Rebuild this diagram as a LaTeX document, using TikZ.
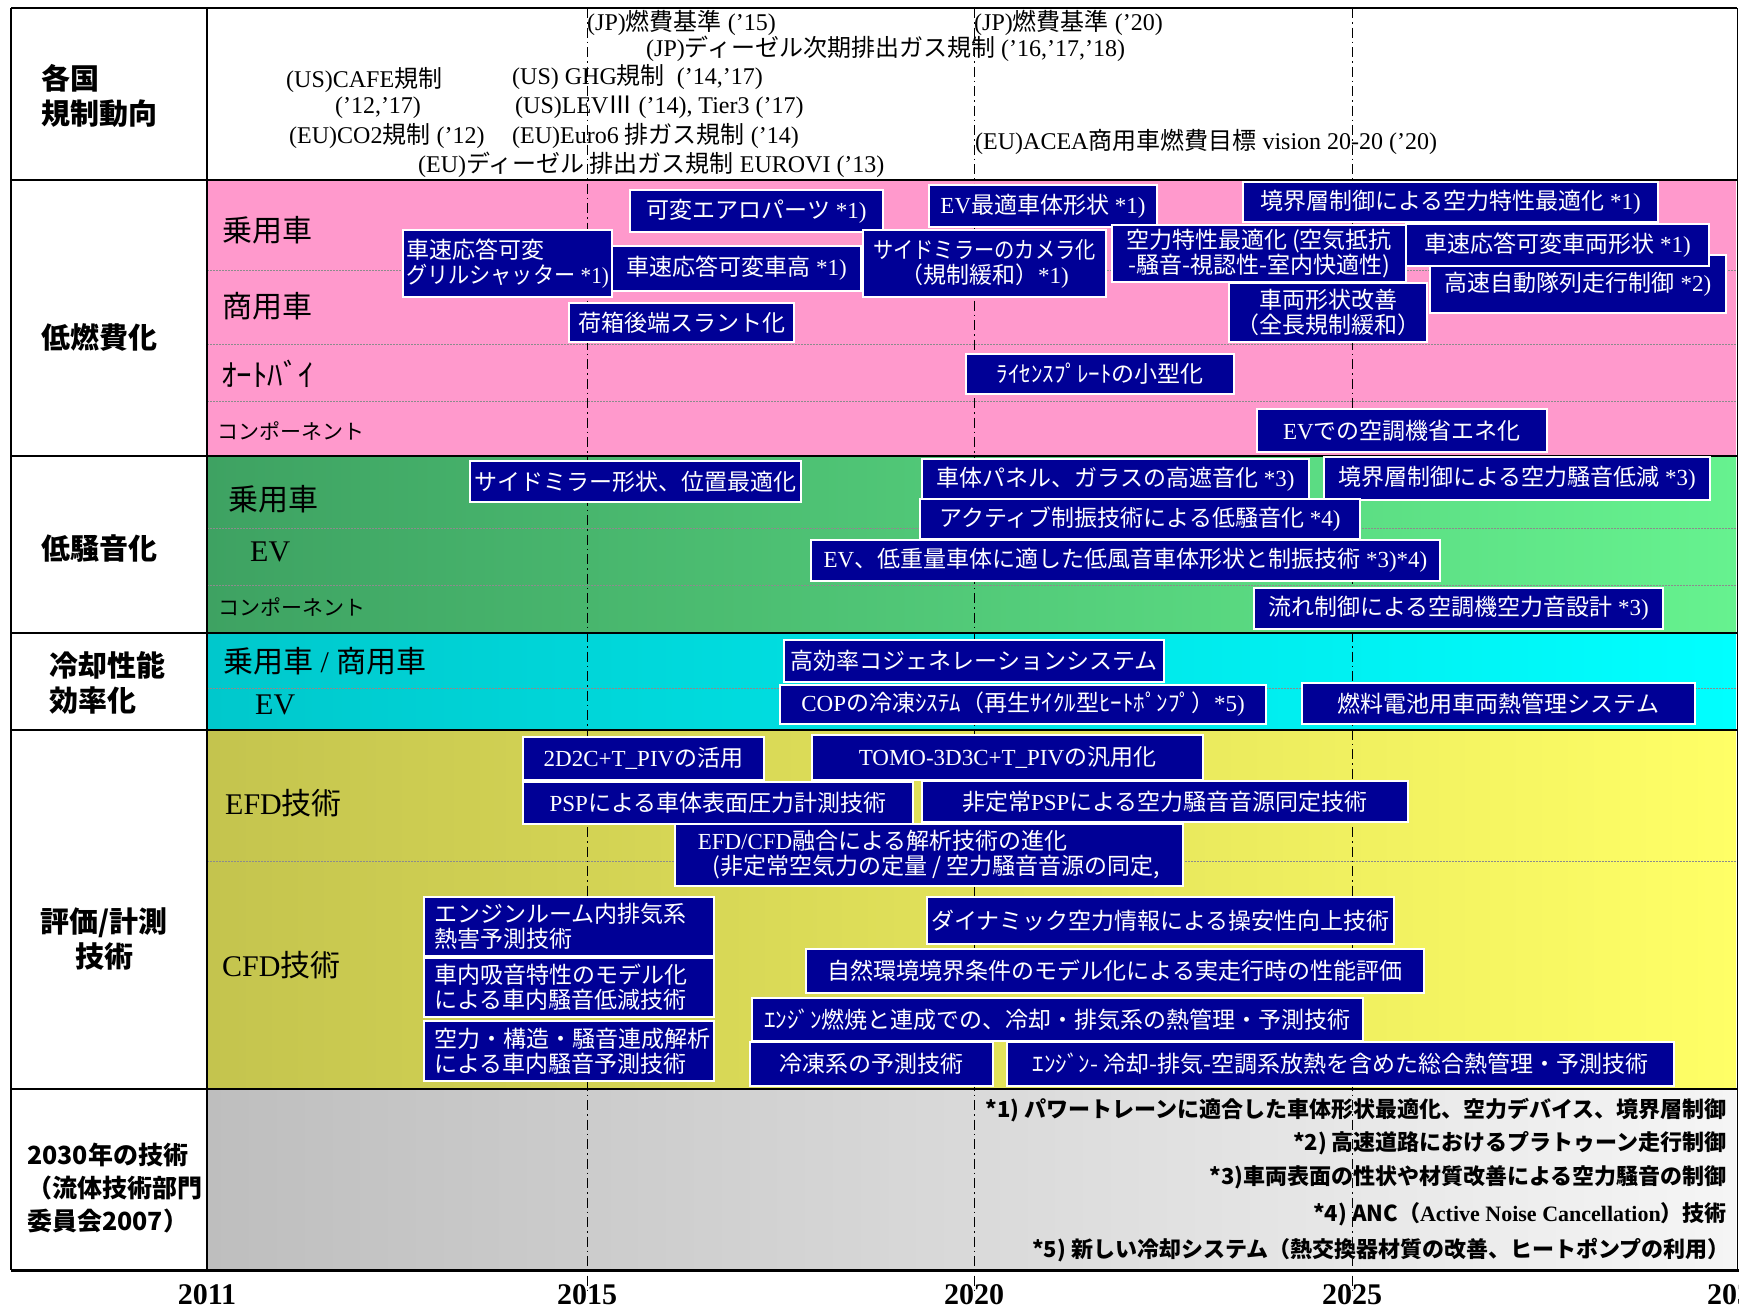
\documentclass[tikz,border=0pt]{standalone}
\usepackage{fontspec}
\usepackage{graphicx}
\setmainfont{Liberation Serif}
\newfontfamily\jp{Noto Sans CJK JP}
\newcommand\rmx[1]{{\rmfamily #1}}
\newcommand\jtx[1]{{\jp #1}}
\newcommand\hsc[2]{\scalebox{#1}[1]{#2}}
\newcommand\BX[6][]{\node[box,#1,minimum width={#4pt-#2pt},minimum height={#5pt-#3pt}] (#6) at ({(#2+#4)/2},{(#3+#5)/2})}
\definecolor{navy}{RGB}{0,0,150}
\definecolor{pinkbg}{RGB}{255,153,204}
\definecolor{gL}{RGB}{62,162,98}
\definecolor{gR}{RGB}{102,242,143}
\definecolor{cL}{RGB}{0,200,204}
\definecolor{cR}{RGB}{0,255,255}
\definecolor{yL}{RGB}{196,196,78}
\definecolor{yR}{RGB}{255,255,102}
\definecolor{grL}{RGB}{190,190,190}
\definecolor{grR}{RGB}{245,245,245}
\begin{document}
\begin{tikzpicture}[x=1pt,y=-1pt,
  box/.style={draw=white, line width=1.2pt, fill=navy, text=white, inner sep=0pt,
    font=\jp\fontsize{23}{25}\selectfont},
  reg/.style={font=\rmfamily\fontsize{24}{26}\selectfont, inner sep=0pt, anchor=west},
  lab/.style={font=\jp\bfseries\fontsize{29}{35}\selectfont, inner sep=0pt, anchor=west, align=left},
  sub/.style={font=\jp\fontsize{30}{32}\selectfont, inner sep=0pt, anchor=west},
  fn/.style={font=\jp\bfseries\fontsize{22}{24}\selectfont, inner sep=0pt, anchor=east},
  yr/.style={font=\rmfamily\bfseries\fontsize{30}{32}\selectfont, inner sep=0pt},
  subline/.style={draw=black!45, line width=0.9pt, dash pattern=on 1.5pt off 1.5pt},
  yearline/.style={draw=black, line width=1pt, dash pattern=on 10pt off 4pt on 1.5pt off 4pt},
  frame/.style={draw=black, line width=1.5pt}]
\useasboundingbox (0,0) rectangle (1739,1310);
\fill[white] (0,0) rectangle (1739,1310);
% backgrounds
\fill[pinkbg] (207,180) rectangle (1736,456);
\shade[left color=gL, right color=gR] (207,456) rectangle (1736,633);
\shade[left color=cL, right color=cR] (207,633) rectangle (1736,730);
\shade[left color=yL, right color=yR] (207,730) rectangle (1736,1089);
\shade[left color=grL, right color=grR] (207,1089) rectangle (1736,1268);
% sub dividers
\foreach \yy in {270,344,401,528,585,688,861} \draw[subline] (207,\yy) -- (1736,\yy);
% year lines
\foreach \xx in {587,974,1352} \draw[yearline] (\xx,8) -- (\xx,1290);
% frame
\draw[frame, line width=2pt] (11,8) -- (1737,8);
\draw[frame] (11,8) -- (11,1270);
\draw[frame] (207,8) -- (207,1270);
\draw[frame, line width=1pt] (1737,8) -- (1737,1270);
\foreach \yy in {180,456,633,730,1089} \draw[frame] (11,\yy) -- (1737,\yy);
\draw[frame, line width=3pt] (11,1270) -- (1739,1270);

% left labels
\node[lab] (lreg) at (41,96) {各国\\規制動向};
\node[lab] (lfuel) at (41,337) {低燃費化};
\node[lab] (lnoise) at (41,549) {低騒音化};
\node[lab] (lcool) at (49,683) {冷却性能\\効率化};
\node[lab, anchor=center, align=center] (leval) at (104,939) {評価/計測\\技術};
\node[lab, font=\jp\bfseries\fontsize{25}{33}\selectfont] (l2030) at (27,1188) {2030年の技術\\（流体技術部門\\委員会2007）};

% sub labels
\node[sub] (s1) at (222,230) {乗用車};
\node[sub] (s2) at (222,306) {商用車};
\node[sub, font=\jp\fontsize{31}{32}\selectfont] (s3) at (221,374) {ｵｰﾄﾊﾞｲ};
\node[sub, font=\jp\fontsize{21}{23}\selectfont] (s4) at (217,431) {コンポーネント};
\node[sub] (s5) at (228,499) {乗用車};
\node[sub, font=\rmfamily\fontsize{30}{32}\selectfont] (s6) at (250,552) {EV};
\node[sub, font=\jp\fontsize{21}{23}\selectfont] (s7) at (218,607) {コンポーネント};
\node[sub] (s8) at (223,661) {乗用車\rmx{ / }商用車};
\node[sub, font=\rmfamily\fontsize{30}{32}\selectfont] (s9) at (255,705) {EV};
\node[sub] (s10) at (225,803) {\rmx{EFD}技術};
\node[sub] (s11) at (222,965) {\rmx{CFD}技術};

% regulations
\node[reg] (r1) at (587,23) {(JP)\jtx{燃費基準} (’15)};
\node[reg] (r2) at (646,49) {(JP)\jtx{ディーゼル次期排出ガス規制} (’16,’17,’18)};
\node[reg] (r3) at (974,23) {(JP)\jtx{燃費基準} (’20)};
\node[reg] (r4) at (286,80) {(US)CAFE\jtx{規制}};
\node[reg, anchor=center] (r5) at (378,108) {(’12,’17)};
\node[reg] (r6) at (289,136) {(EU)CO2\jtx{規制} (’12)};
\node[reg] (r7) at (512,77) {(US) GHG\jtx{規制}\ \ (’14,’17)};
\node[reg] (r8) at (515,107) {(US)LEV\jtx{Ⅲ} (’14), Tier3 (’17)};
\node[reg] (r9) at (512,136) {(EU)Euro6 \jtx{排ガス規制} (’14)};
\node[reg] (r10) at (418,165) {(EU)\jtx{ディーゼル 排出ガス規制} EUROVI (’13)};
\node[reg] (r11) at (975,142) {(EU)ACEA\jtx{商用車燃費目標} vision 20-20 (’20)};

% low fuel boxes
\BX{630}{190}{883}{232}{F1} {可変エアロパーツ\rmx{ *1)}};
\BX{929}{185}{1157}{227}{F2} {\rmx{EV}最適車体形状\rmx{ *1)}};
\BX{1243}{182}{1658}{222}{F3} {境界層制御による空力特性最適化\rmx{ *1)}};
\BX[align=left]{403}{230}{612}{297}{F4} {車速応答可変\\\hsc{0.92}{グリルシャッター\rmx{ *1)}}};
\BX{612}{246}{861}{291}{F5} {車速応答可変車高\rmx{ *1)}};
\BX[align=center]{863}{230}{1106}{297}{F6} {\hsc{0.88}{サイドミラーのカメラ化}\\（規制緩和）\rmx{*1)}};
\BX[align=center]{1112}{225}{1406}{282}{F7} {空力特性最適化 (空気抵抗\\-騒音-視認性-室内快適性)};
\BX{1430}{255}{1726}{313}{F9} {高速自動隊列走行制御\rmx{ *2)}};
\BX{1406}{224}{1709}{266}{F8} {車速応答可変車両形状\rmx{ *1)}};
\BX[align=center]{1229}{283}{1427}{342}{F10} {車両形状改善\\（全長規制緩和）};
\BX{569}{303}{794}{342}{F11} {荷箱後端スラント化};
\BX{966}{354}{1234}{394}{F12} {ﾗｲｾﾝｽﾌﾟﾚｰﾄの小型化};
\BX{1257}{409}{1547}{452}{F13} {\rmx{EV}での空調機省エネ化};

% low noise boxes
\BX{470}{461}{801}{502}{N1} {サイドミラー形状、位置最適化};
\BX{922}{459}{1309}{499}{N2} {車体パネル、ガラスの高遮音化\rmx{ *3)}};
\BX{1324}{457}{1710}{500}{N3} {境界層制御による空力騒音低減\rmx{ *3)}};
\BX{920}{499}{1360}{539}{N4} {アクティブ制振技術による低騒音化\rmx{ *4)}};
\BX{811}{540}{1440}{581}{N5} {\rmx{EV}、低重量車体に適した低風音車体形状と制振技術\rmx{ *3)*4)}};
\BX{1254}{588}{1663}{629}{N6} {流れ制御による空調機空力音設計\rmx{ *3)}};

% cooling boxes
\BX{784}{640}{1164}{682}{C1} {高効率コジェネレーションシステム};
\BX{780}{685}{1266}{724}{C2} {\rmx{COP}の冷凍ｼｽﾃﾑ（再生ｻｲｸﾙ型ﾋｰﾄﾎﾟﾝﾌﾟ）\rmx{*5)}};
\BX{1302}{683}{1695}{724}{C3} {燃料電池用車両熱管理システム};

% evaluation boxes
\BX{523}{737}{764}{780}{E1} {\rmx{2D2C+T\_PIV}の活用};
\BX{812}{735}{1203}{780}{E2} {\rmx{TOMO-3D3C+T\_PIV}の汎用化};
\BX{523}{782}{913}{824}{E3} {\rmx{PSP}による車体表面圧力計測技術};
\BX{922}{781}{1408}{822}{E4} {非定常\rmx{PSP}による空力騒音音源同定技術};
\BX[align=left]{675}{824}{1183}{886}{E5} {\rmx{EFD/CFD}融合による解析技術の進化\\\hspace*{15pt}(非定常空気力の定量 / 空力騒音音源の同定,};
\BX[text width=270pt, align=left]{424}{897}{714}{956}{E6} {エンジンルーム内排気系\\熱害予測技術};
\BX[text width=270pt, align=left]{424}{958}{714}{1017}{E7} {車内吸音特性のモデル化\\による車内騒音低減技術};
\BX[text width=270pt, align=left]{424}{1021}{714}{1081}{E8} {空力・構造・騒音連成解析\\による車内騒音予測技術};
\BX{927}{897}{1394}{944}{E9} {ダイナミック空力情報による操安性向上技術};
\BX{806}{949}{1424}{993}{E10} {自然環境境界条件のモデル化による実走行時の性能評価};
\BX{752}{998}{1363}{1041}{E11} {ｴﾝｼﾞﾝ燃焼と連成での、冷却・排気系の熱管理・予測技術};
\BX{750}{1042}{993}{1086}{E12} {冷凍系の予測技術};
\BX{1007}{1042}{1674}{1086}{E13} {ｴﾝｼﾞﾝ- 冷却-排気-空調系放熱を含めた総合熱管理・予測技術};

% footnotes
\node[fn] (f1) at (1727,1110) {*1) パワートレーンに適合した車体形状最適化、空力デバイス、境界層制御};
\node[fn] (f2) at (1727,1143) {*2) 高速道路におけるプラトゥーン走行制御};
\node[fn] (f3) at (1727,1177) {*3)車両表面の性状や材質改善による空力騒音の制御};
\node[fn] (f4) at (1727,1214) {*4) ANC（\rmx{Active Noise Cancellation}）技術};
\node[fn] (f5) at (1730,1250) {*5) 新しい冷却システム（熱交換器材質の改善、ヒートポンプの利用）};

% years
\node[yr] (y2011) at (207,1295) {2011};
\node[yr] (y2015) at (587,1295) {2015};
\node[yr] (y2020) at (974,1295) {2020};
\node[yr] (y2025) at (1352,1295) {2025};
\node[yr] (y2030) at (1737,1295) {2030};
\end{tikzpicture}
\end{document}
